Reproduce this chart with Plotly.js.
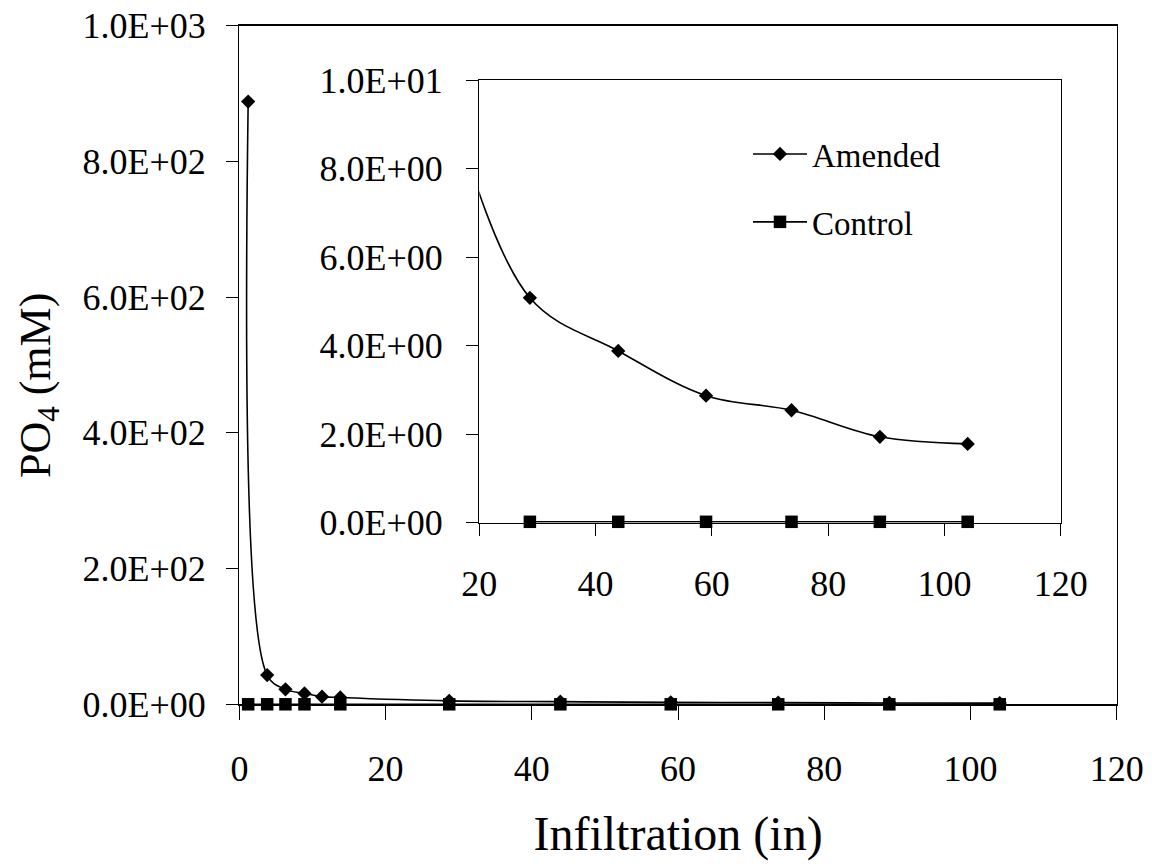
<!DOCTYPE html>
<html>
<head>
<meta charset="utf-8">
<script src="https://cdn.plot.ly/plotly-3.0.1.min.js"></script>
<style>html,body{margin:0;padding:0;background:#fff;}#chart{width:1152px;height:867px;}</style>
</head>
<body>
<div id="chart"></div>
<script>
// Infiltration (in) and PO4 (mM) values
const amendedX = [1.2, 3.8, 6.3, 8.9, 11.3, 13.8, 28.7, 43.9, 59.0, 73.7, 88.9, 104.0];
const amendedY = [888, 43, 22, 16, 11.3, 10, 5.08, 3.88, 2.87, 2.54, 1.94, 1.78];
const controlX = [1.2, 3.8, 6.3, 8.9, 13.8, 28.7, 43.9, 59.0, 73.7, 88.9, 104.0];
const controlY = [0.02, 0.02, 0.02, 0.02, 0.02, 0.02, 0.02, 0.02, 0.02, 0.02, 0.02];

const mainXTicks = [0, 20, 40, 60, 80, 100, 120];
const mainYTicks = [0, 200, 400, 600, 800, 1000];
const mainYLabels = ["0.0E+00", "2.0E+02", "4.0E+02", "6.0E+02", "8.0E+02", "1.0E+03"];
const insetXTicks = [20, 40, 60, 80, 100, 120];
const insetYTicks = [0, 2, 4, 6, 8, 10];
const insetYLabels = ["0.0E+00", "2.0E+00", "4.0E+00", "6.0E+00", "8.0E+00", "1.0E+01"];

const FONT = "Liberation Serif, Times New Roman, serif";
const W = 1152, H = 867;
const px = v => v / W;
const py = v => (H - v) / H;

// inset shows only the in-range control points
const insetCtrlX = [], insetCtrlY = [];
controlX.forEach((x, i) => { if (x >= insetXTicks[0]) { insetCtrlX.push(x); insetCtrlY.push(controlY[i]); } });

const lineStyle = {color: "#000", width: 1.6, shape: "spline", smoothing: 1};
const diamond = {symbol: "diamond", size: 11, color: "#000", line: {width: 0}};
const square = {symbol: "square", size: 12.5, color: "#000", line: {width: 0}};

const traces = [
  {x: amendedX, y: amendedY, xaxis: "x", yaxis: "y", mode: "lines+markers", name: "Amended",
   line: lineStyle, marker: diamond, cliponaxis: false, showlegend: true, legendgroup: "a"},
  {x: controlX, y: controlY, xaxis: "x", yaxis: "y", mode: "lines+markers", name: "Control",
   line: lineStyle, marker: square, cliponaxis: false, showlegend: true, legendgroup: "b"},
  {x: amendedX, y: amendedY, xaxis: "x2", yaxis: "y2", mode: "lines+markers", name: "Amended",
   line: lineStyle, marker: diamond, cliponaxis: true, showlegend: false, legendgroup: "a"},
  {x: insetCtrlX, y: insetCtrlY, xaxis: "x2", yaxis: "y2", mode: "lines+markers", name: "Control",
   line: lineStyle, marker: square, cliponaxis: false, showlegend: false, legendgroup: "b"}
];

const axisCommon = {
  showline: true, mirror: true, linecolor: "#000", linewidth: 1.4,
  showgrid: false, zeroline: false, ticks: "outside", tickcolor: "#000", tickwidth: 1,
  tickfont: {family: FONT, size: 36, color: "#000"}, fixedrange: true
};

const layout = {
  width: W, height: H,
  margin: {l: 0, r: 0, t: 0, b: 0},
  paper_bgcolor: "#fff", plot_bgcolor: "#fff",
  showlegend: true,
  font: {family: FONT, color: "#000"},
  xaxis: Object.assign({}, axisCommon, {
    domain: [px(239.4), px(1116.7)], range: [0, 120], tickvals: mainXTicks,
    ticklen: 14, ticklabelstandoff: 18, anchor: "y",
    title: {text: "Infiltration (in)", font: {family: FONT, size: 48, color: "#000"}, standoff: 28}
  }),
  yaxis: Object.assign({}, axisCommon, {
    domain: [py(704.3), py(25.6)], range: [0, 1000], tickvals: mainYTicks, ticktext: mainYLabels,
    ticklen: 12, ticklabelstandoff: 13, anchor: "x"
  }),
  xaxis2: Object.assign({}, axisCommon, {
    domain: [px(479.3), px(1060.7)], range: [20, 120], tickvals: insetXTicks,
    ticklen: 12, ticklabelstandoff: 17, anchor: "y2"
  }),
  yaxis2: Object.assign({}, axisCommon, {
    domain: [py(522.7), py(80)], range: [0, 10], tickvals: insetYTicks, ticktext: insetYLabels,
    ticklen: 12, ticklabelstandoff: 16, anchor: "x2"
  }),
  legend: {
    x: px(748), y: py(126), xanchor: "left", yanchor: "top",
    bgcolor: "rgba(0,0,0,0)", borderwidth: 0,
    font: {family: FONT, size: 33, color: "#000"},
    itemwidth: 54, tracegroupgap: 22, traceorder: "grouped"
  },
  shapes: [
    {type: "rect", xref: "paper", yref: "paper", x0: px(680.7), x1: px(1005.7), y0: py(253.3), y1: py(116),
     line: {color: "#000", width: 1}, fillcolor: "#fff", layer: "below"}
  ],
  annotations: [
    {xref: "paper", yref: "paper", x: px(38), y: py(386), text: "PO<sub>4</sub> (mM)", textangle: -90,
     showarrow: false, xanchor: "center", yanchor: "middle", font: {family: FONT, size: 44, color: "#000"}}
  ]
};

Plotly.newPlot("chart", traces, layout, {displayModeBar: false, staticPlot: true});
</script>
</body>
</html>
